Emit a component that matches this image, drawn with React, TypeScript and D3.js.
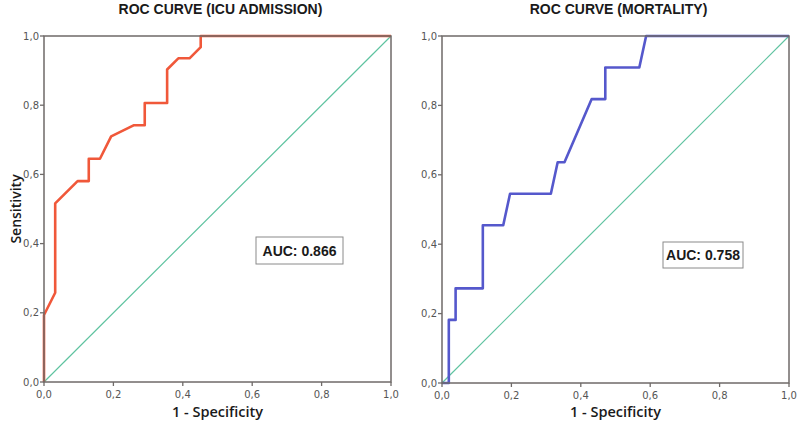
import React from "react";
import * as d3 from "d3";

const icuX = [0, 0, 1/31, 1/31, 3/31, 4/31, 4/31, 5/31, 6/31, 8/31, 9/31, 9/31, 11/31, 11/31, 12/31, 13/31, 14/31, 14/31, 1];
const icuY = [0, 6/31, 8/31, 16/31, 18/31, 18/31, 20/31, 20/31, 22/31, 23/31, 23/31, 25/31, 25/31, 28/31, 29/31, 29/31, 30/31, 1, 1];
const mortX = [0, 1/51, 1/51, 2/51, 2/51, 6/51, 6/51, 9/51, 10/51, 16/51, 17/51, 18/51, 22/51, 24/51, 24/51, 29/51, 30/51, 1];
const mortY = [0, 0, 2/11, 2/11, 3/11, 3/11, 5/11, 5/11, 6/11, 6/11, 7/11, 7/11, 9/11, 9/11, 10/11, 10/11, 1, 1];
const ticks = [0, 0.2, 0.4, 0.6, 0.8, 1.0];
const tickLabels = ["0,0", "0,2", "0,4", "0,6", "0,8", "1,0"];

type PanelProps = {
  x0: number; x1: number; y0: number; y1: number;
  xs: number[]; ys: number[]; color: string; title: string; auc: string;
  box: [number, number, number, number]; showYLabel: boolean;
};

function Panel({ x0, x1, y0, y1, xs, ys, color, title, auc, box, showYLabel }: PanelProps) {
  const x = d3.scaleLinear().domain([0, 1]).range([x0, x1]);
  const y = d3.scaleLinear().domain([0, 1]).range([y0, y1]);
  const pts: [number, number][] = xs.map((v, i) => [v, ys[i]]);
  const line = d3.line<[number, number]>().x(d => x(d[0])).y(d => y(d[1]));
  const frame = "#6f6a68";
  const [bx, by, bw, bh] = box;
  return (
    <g>
      <text x={(x0 + x1) / 2 + 3} y={14} textAnchor="middle" fontFamily="Liberation Sans, Arial, sans-serif" fontWeight="bold" fontSize={14} fill="#1a1a1a">{title}</text>
      <line x1={x(0)} y1={y(0)} x2={x(1)} y2={y(1)} stroke="#5fc3a0" strokeWidth={1.2} />
      <path d={line(pts) || ""} fill="none" stroke={color} strokeWidth={2.6} strokeLinejoin="round" />
      <rect x={x0} y={y1} width={x1 - x0} height={y0 - y1} fill="none" stroke={frame} strokeWidth={1.5} />
      {ticks.map((t, i) => (
        <g key={"y" + i}>
          <line x1={x0 - 4} x2={x0} y1={y(t)} y2={y(t)} stroke={frame} strokeWidth={1.3} />
          <text x={x0 - 5} y={y(t) + 3.5} textAnchor="end" fontFamily="DejaVu Sans, sans-serif" fontSize={10} fill="#555">{tickLabels[i]}</text>
        </g>
      ))}
      {ticks.map((t, i) => (
        <g key={"x" + i}>
          <line x1={x(t)} x2={x(t)} y1={y0} y2={y0 + 4} stroke={frame} strokeWidth={1.3} />
          <text x={x(t)} y={y0 + 16} textAnchor="middle" fontFamily="DejaVu Sans, sans-serif" fontSize={10} fill="#555">{tickLabels[i]}</text>
        </g>
      ))}
      <text x={(x0 + x1) / 2} y={417} textAnchor="middle" fontFamily="Open Sans, sans-serif" fontWeight={600} fontSize={14.5} fill="#1a1a1a">1 - Specificity</text>
      {showYLabel && (
        <text transform={`translate(21, ${(y0 + y1) / 2}) rotate(-90)`} textAnchor="middle" fontFamily="Open Sans, sans-serif" fontWeight={600} fontSize={14} fill="#1a1a1a">Sensitivity</text>
      )}
      <rect x={bx} y={by} width={bw} height={bh} fill="#fff" stroke="#8a8a8a" strokeWidth={1} />
      <text x={bx + bw / 2} y={by + bh / 2 + 5} textAnchor="middle" fontFamily="Liberation Sans, Arial, sans-serif" fontWeight="bold" fontSize={14} fill="#1a1a1a">{auc}</text>
    </g>
  );
}

export default function App() {
  return (
    <svg width={800} height={424} style={{ position: "absolute", left: 0, top: 0 }}>
      <rect width={800} height={424} fill="#fff" />
      <Panel x0={44} x1={391} y0={382} y1={36} xs={icuX} ys={icuY} color="#f0583a" title="ROC CURVE (ICU ADMISSION)" auc="AUC: 0.866" box={[256, 237, 87, 27]} showYLabel={true} />
      <Panel x0={442} x1={789} y0={383} y1={36} xs={mortX} ys={mortY} color="#5558cc" title="ROC CURVE (MORTALITY)" auc="AUC: 0.758" box={[663, 242, 80, 26]} showYLabel={false} />
    </svg>
  );
}
